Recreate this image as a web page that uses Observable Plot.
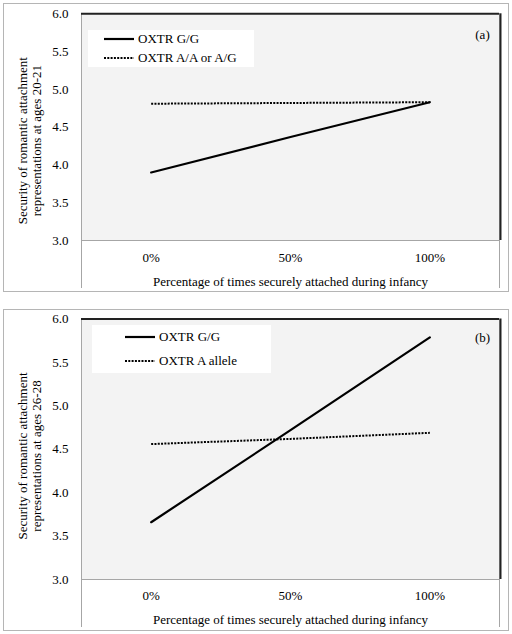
<!DOCTYPE html>
<html>
<head>
<meta charset="utf-8">
<script src="https://cdn.jsdelivr.net/npm/d3@7"></script>
<script src="https://cdn.jsdelivr.net/npm/@observablehq/plot@0.6"></script>
<style>
  html, body { margin: 0; padding: 0; background: #fff; }
  body { width: 512px; height: 634px; position: relative; overflow: hidden; font-family: "Liberation Serif", "Times New Roman", serif; }
  .frame { position: absolute; border: 1px solid #b5b5b5; box-sizing: border-box; pointer-events: none; }
  .plotwrap { position: absolute; left: 0; }
  .legend { position: absolute; background: #fff; font-size: 13px; color: #000; }
  .legrow { position: absolute; height: 16px; display: flex; align-items: center; white-space: nowrap; }
  .legrow svg { display: block; margin-right: 4px; }
</style>
</head>
<body>
<script>
// ---------- data ----------
const categories = ["0%", "50%", "100%"];
const yTicks = [3.0, 3.5, 4.0, 4.5, 5.0, 5.5, 6.0];
const yDomain = [3.0, 6.0];

const panelALabel = "(a)";
const seriesNamesA = ["OXTR G/G", "OXTR A/A or A/G"];
const aGG = [3.90, 4.37, 4.83];
const aAllele = [4.81, 4.82, 4.83];
const yTitleA = ["Security of romantic attachment", "representations at ages 20-21"];

const panelBLabel = "(b)";
const seriesNamesB = ["OXTR G/G", "OXTR A allele"];
const bGG = [3.66, 4.72, 5.79];
const bAllele = [4.56, 4.62, 4.69];
const yTitleB = ["Security of romantic attachment", "representations at ages 26-28"];

const xTitle = "Percentage of times securely attached during infancy";

// ---------- drawing ----------
const FONT = "Liberation Serif, Times New Roman, serif";
const DOT = "2,1.3";

function panel(cfg) {
  const xDomain = [-0.5, categories.length - 0.5];
  const chart = Plot.plot({
    width: 512,
    height: cfg.height,
    marginLeft: 81,
    marginRight: 13,
    marginTop: cfg.mt,
    marginBottom: cfg.mb,
    style: { background: "transparent", fontFamily: FONT, fontSize: "13px", color: "#000", overflow: "visible" },
    x: { type: "linear", domain: xDomain, axis: null },
    y: { domain: yDomain, axis: null },
    marks: [
      Plot.frame({ fill: "#f3f3f3", stroke: null }),
      // bottom baseline (gray) and extended category-area edges
      Plot.ruleY([yDomain[0]], { stroke: "#a6a6a6", strokeWidth: 1 }),
      Plot.ruleX(xDomain, { stroke: "#a6a6a6", strokeWidth: 1, insetBottom: -48 }),
      // dark top and right border of the plot area
      Plot.ruleY([yDomain[1]], { stroke: "#222", strokeWidth: 2 }),
      Plot.ruleX([xDomain[1]], { stroke: "#222", strokeWidth: 2, dx: 1 }),
      Plot.axisY({ ticks: yTicks, tickSize: 0, tickPadding: 13, tickFormat: d => d.toFixed(1), label: null, fontSize: 13 }),
      Plot.axisX({ ticks: d3.range(categories.length), tickSize: 0, tickPadding: cfg.xtp, tickFormat: i => categories[i], label: null, fontSize: 13 }),
      Plot.text([xTitle], { frameAnchor: "bottom", dy: cfg.xTitleDy, fontSize: 13, fill: "#000", lineAnchor: "middle" }),
      Plot.text([cfg.yTitle.join("\n")], { frameAnchor: "left", rotate: -90, dx: -52, dy: cfg.yTitleDy, fontSize: 13, fill: "#000", lineAnchor: "middle", textAnchor: "middle", lineHeight: 1.04 }),
      Plot.text([cfg.label], { frameAnchor: "top-right", dx: -17, dy: cfg.labelDy, textAnchor: "middle", lineAnchor: "middle", fontSize: 13, fill: "#000" }),
      Plot.lineY(cfg.allele, { x: (d, i) => i, y: d => d, stroke: "#000", strokeWidth: 2, strokeDasharray: DOT, strokeLinecap: "butt" }),
      Plot.lineY(cfg.gg, { x: (d, i) => i, y: d => d, stroke: "#000", strokeWidth: 2.2 })
    ]
  });
  const wrap = document.createElement("div");
  wrap.className = "plotwrap";
  wrap.style.top = cfg.top + "px";
  wrap.appendChild(chart);
  document.body.appendChild(wrap);

  const fr = document.createElement("div");
  fr.className = "frame";
  Object.assign(fr.style, { left: "3px", top: cfg.frameTop + "px", width: "506px", height: cfg.frameH + "px" });
  document.body.appendChild(fr);

  const lg = document.createElement("div");
  lg.className = "legend";
  Object.assign(lg.style, { left: cfg.leg.x + "px", top: cfg.leg.y + "px", width: cfg.leg.w + "px", height: cfg.leg.h + "px" });
  cfg.names.forEach((name, i) => {
    const row = document.createElement("div");
    row.className = "legrow";
    row.style.left = cfg.leg.lx + "px";
    row.style.top = cfg.leg.rows[i] + "px";
    const dash = i === 0 ? "" : `stroke-dasharray="${DOT}"`;
    row.innerHTML = `<svg width="30" height="6"><line x1="0" x2="30" y1="3" y2="3" stroke="#000" stroke-width="${i === 0 ? 2.2 : 2}" ${dash}/></svg><span>${name}</span>`;
    lg.appendChild(row);
  });
  document.body.appendChild(lg);
}

panel({
  top: 0, height: 300, mt: 13.3, mb: 60, xtp: 12, xTitleDy: 41, yTitleDy: 13.5, labelDy: 20.7,
  frameTop: 3, frameH: 289,
  yTitle: yTitleA, label: panelALabel, gg: aGG, allele: aAllele, names: seriesNamesA,
  leg: { x: 88, y: 30, w: 166, h: 37, lx: 16, rows: [1, 20] }
});

panel({
  top: 306, height: 328, mt: 12.6, mb: 55, xtp: 11, xTitleDy: 40.7, yTitleDy: 6.7, labelDy: 18.4,
  frameTop: 309, frameH: 322,
  yTitle: yTitleB, label: panelBLabel, gg: bGG, allele: bAllele, names: seriesNamesB,
  leg: { x: 92, y: 325, w: 179, h: 48, lx: 33, rows: [4, 28] }
});
</script>
</body>
</html>
